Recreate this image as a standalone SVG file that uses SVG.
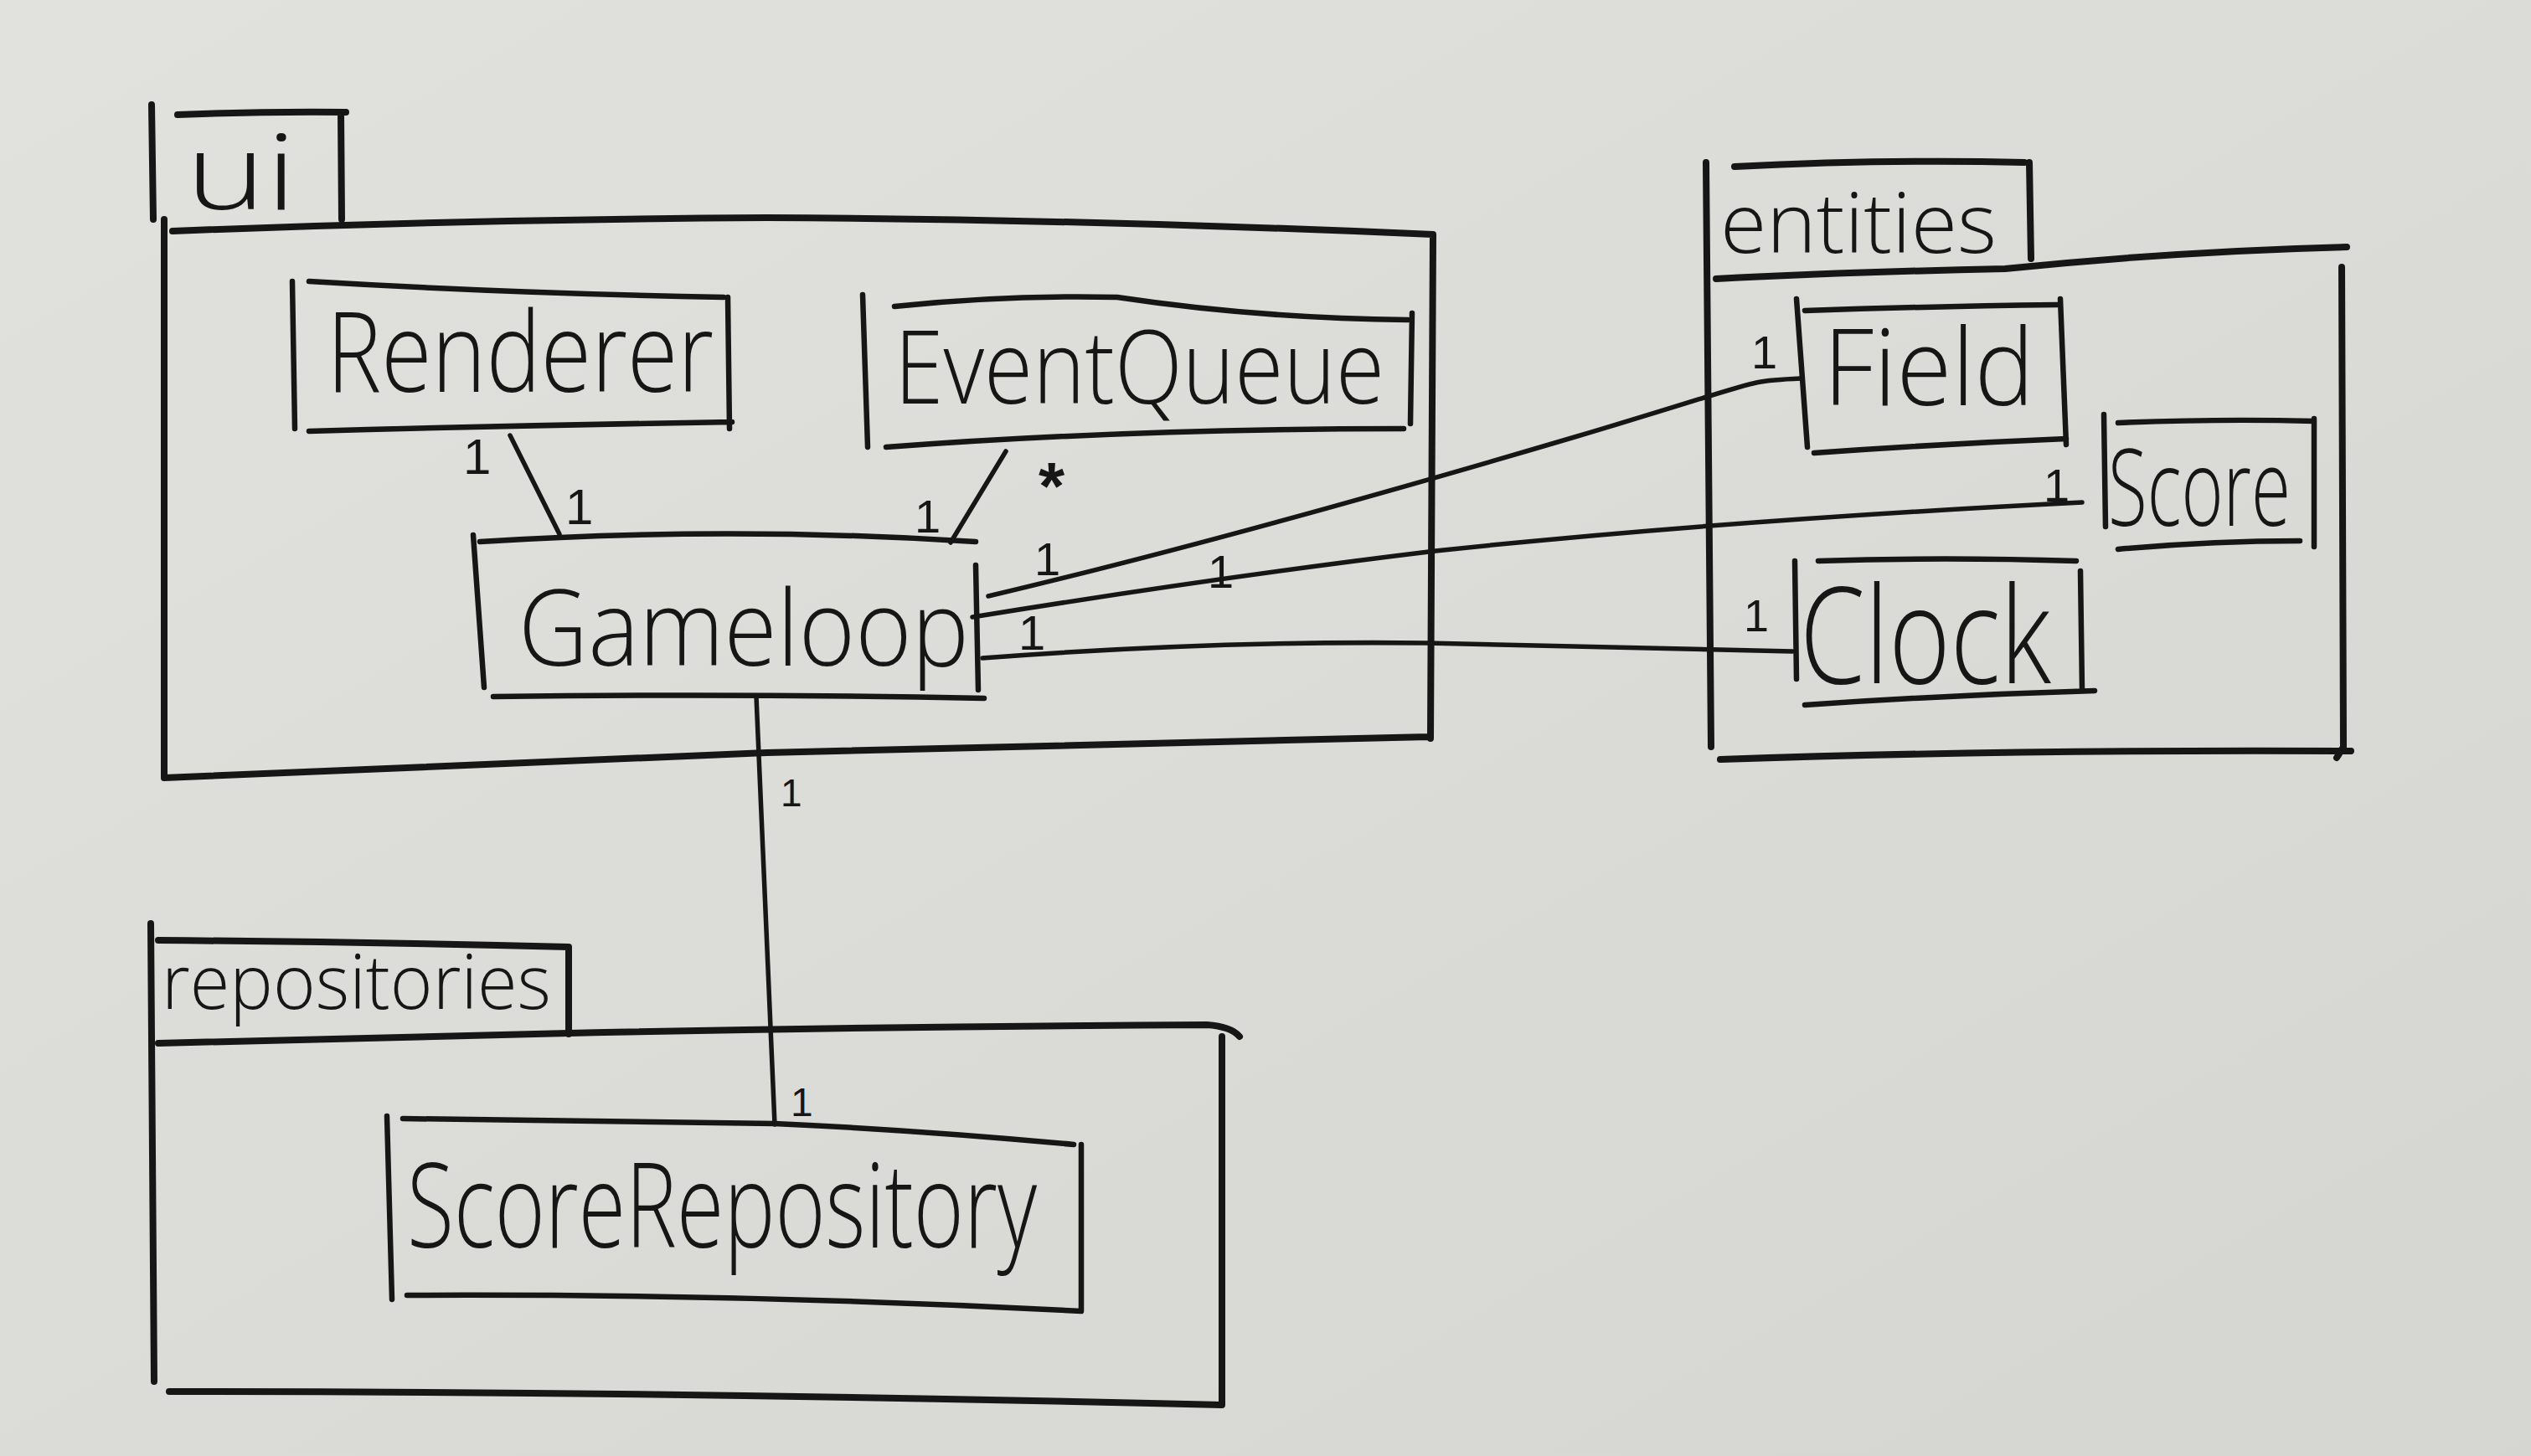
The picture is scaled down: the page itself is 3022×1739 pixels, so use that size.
<svg xmlns="http://www.w3.org/2000/svg" width="3022" height="1739" viewBox="0 0 3022 1739">
  <defs>
    <linearGradient id="paper" x1="0" y1="0" x2="1" y2="1">
      <stop offset="0" stop-color="#e1e1dd"/>
      <stop offset="1" stop-color="#d5d5d1"/>
    </linearGradient>
  </defs>
  <style>
    .pkg { fill: none; stroke: #161616; stroke-width: 8; stroke-linecap: round; stroke-linejoin: round; }
    .box { fill: none; stroke: #161616; stroke-width: 6.5; stroke-linecap: round; stroke-linejoin: round; }
    .conn { fill: none; stroke: #161616; stroke-width: 5.5; stroke-linecap: round; }
    .name { font-family: "Open Sans", "Liberation Sans", sans-serif; font-weight: 300; fill: #161616; }
    .mult { font-family: "Liberation Sans", sans-serif; fill: #161616; }
    .star { font-family: "Liberation Sans", sans-serif; font-weight: bold; fill: #161616; }
  </style>
  <rect x="0" y="0" width="3022" height="1739" fill="url(#paper)"/>

  <!-- packages -->
  <g id="pkg-ui">
    <path class="pkg" d="M181,125 L183,262"/>
    <path class="pkg" d="M212,137 Q310,133 413,134 M407,134 L408,262"/>
    <path class="pkg" d="M206,276 Q560,262 915,260 Q1300,262 1711,280 M1711,280 L1708,882 M1706,880 Q1200,892 915,899 Q600,912 196,929 M196,262 L196,929"/>
    <text class="name" x="222" y="250" font-size="125" textLength="132" lengthAdjust="spacingAndGlyphs">ui</text>
  </g>

  <g id="pkg-entities">
    <path class="pkg" d="M2037,194 L2043,892"/>
    <path class="pkg" d="M2071,199 Q2250,190 2417,194 M2423,194 L2425,309"/>
    <path class="pkg" d="M2049,333 Q2200,325 2394,321 Q2600,300 2802,295 M2796,319 L2798,892 L2790,905 M2054,907 Q2400,895 2807,897"/>
    <text class="name" x="2054" y="302" font-size="100" textLength="330" lengthAdjust="spacingAndGlyphs">entities</text>
  </g>

  <g id="pkg-repositories">
    <path class="pkg" d="M180,1103 L184,1650"/>
    <path class="pkg" d="M189,1123 Q430,1125 679,1131 M679,1131 L679,1235"/>
    <path class="pkg" d="M189,1246 Q430,1240 679,1234 Q1060,1226 1441,1224 Q1470,1226 1480,1238 M1459,1238 L1459,1678 M202,1662 Q800,1662 1459,1678"/>
    <text class="name" x="193" y="1205" font-size="90" textLength="465" lengthAdjust="spacingAndGlyphs">repositories</text>
  </g>

  <!-- classes -->
  <g id="node-renderer">
    <path class="box" d="M369,336 Q600,350 864,355 M869,355 L871,512 M369,515 Q620,508 874,504 M349,336 L352,512"/>
    <text class="name" x="390" y="468" font-size="132" textLength="462" lengthAdjust="spacingAndGlyphs">Renderer</text>
  </g>

  <g id="node-eventqueue">
    <path class="box" d="M1068,366 Q1200,352 1334,355 Q1500,380 1681,382 M1686,374 L1684,506 M1058,534 Q1350,512 1676,512 M1030,352 L1036,534"/>
    <text class="name" x="1068" y="482" font-size="122" textLength="585" lengthAdjust="spacingAndGlyphs">EventQueue</text>
  </g>

  <g id="node-gameloop">
    <path class="box" d="M573,647 Q870,628 1165,647 M1165,675 L1168,824 M589,832 Q880,828 1175,834 M565,639 L578,821"/>
    <text class="name" x="619" y="795" font-size="125" textLength="538" lengthAdjust="spacingAndGlyphs">Gameloop</text>
  </g>

  <g id="node-field">
    <path class="box" d="M2155,371 Q2300,366 2456,364 M2460,357 L2467,531 M2166,541 Q2320,530 2467,524 M2145,357 L2158,534"/>
    <text class="name" x="2177" y="484" font-size="128" textLength="252" lengthAdjust="spacingAndGlyphs">Field</text>
  </g>

  <g id="node-score">
    <path class="box" d="M2529,505 Q2650,500 2763,503 M2763,500 L2763,653 M2529,656 Q2640,646 2746,646 M2512,495 L2514,629"/>
    <text class="name" x="2517" y="628" font-size="128" textLength="218" lengthAdjust="spacingAndGlyphs">Score</text>
  </g>

  <g id="node-clock">
    <path class="box" d="M2171,670 Q2320,665 2479,670 M2484,682 L2486,823 M2155,842 Q2330,830 2501,825 M2143,670 L2145,811"/>
    <text class="name" x="2149" y="816" font-size="160" textLength="300" lengthAdjust="spacingAndGlyphs">Clock</text>
  </g>

  <g id="node-scorerepository">
    <path class="box" d="M481,1336 Q700,1338 925,1342 Q1100,1350 1282,1367 M1291,1367 L1291,1566 M486,1547 Q900,1545 1291,1566 M462,1333 L468,1552"/>
    <text class="name" x="486" y="1490" font-size="140" textLength="752" lengthAdjust="spacingAndGlyphs">ScoreRepository</text>
  </g>

  <!-- connectors -->
  <g id="connectors">
    <path class="conn" d="M609,520 L668,638"/>
    <path class="conn" d="M1201,539 L1135,648"/>
    <path class="conn" d="M1180,712 C1400,660 1650,590 1880,522 S2080,455 2150,452"/>
    <path class="conn" d="M1161,737 Q1450,690 1714,658 Q2050,622 2486,600"/>
    <path class="conn" d="M1173,786 Q1450,765 1703,768 L2140,778"/>
    <path class="conn" d="M903,832 L925,1343"/>

    <text class="mult" x="553" y="566" font-size="60">1</text>
    <text class="mult" x="675" y="626" font-size="60">1</text>
    <text class="star" x="1240" y="608" font-size="80">*</text>
    <text class="mult" x="1092" y="636" font-size="56">1</text>
    <text class="mult" x="1235" y="687" font-size="56">1</text>
    <text class="mult" x="1442" y="702" font-size="56">1</text>
    <text class="mult" x="1216" y="776" font-size="58">1</text>
    <text class="mult" x="2091" y="440" font-size="56">1</text>
    <text class="mult" x="2440" y="599" font-size="56">1</text>
    <text class="mult" x="2082" y="754" font-size="54">1</text>
    <text class="mult" x="932" y="963" font-size="46">1</text>
    <text class="mult" x="944" y="1333" font-size="48">1</text>
  </g>
</svg>
